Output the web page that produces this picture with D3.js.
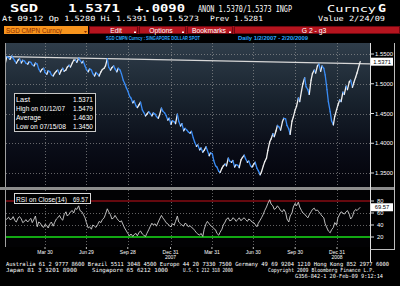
<!DOCTYPE html>
<html><head><meta charset="utf-8">
<script src="https://cdn.jsdelivr.net/npm/d3@7"></script>
<style>
html,body{margin:0;padding:0;background:#000;}
svg{display:block;}
</style></head>
<body>
<svg id="c" width="400" height="286"></svg>
<script>
// ---------- DATA ----------
const startDate = "2007-01-02";
const endDate = "2009-02-20";
// weekly closes (Tuesdays from 2007-01-02, last = 2009-02-20)
const priceValues = [
1.5349,1.5440,1.5466,1.5380,1.5400,1.5350,1.5380,1.5330,1.5360,1.5300,
1.5330,1.5200,1.5260,1.5160,1.5200,1.5130,1.5210,1.5160,1.5260,1.5230,
1.5310,1.5350,1.5400,1.5430,1.5350,1.5300,1.5200,1.5230,1.5130,1.5160,
1.5200,1.5260,1.5420,1.5230,1.5300,1.5200,1.5230,1.5060,1.4930,1.4790,
1.4680,1.4630,1.4650,1.4560,1.4460,1.4530,1.4460,1.4490,1.4420,1.4590,
1.4510,1.4390,1.4320,1.4360,1.4490,1.4290,1.4210,1.4220,1.4170,1.4090,
1.3950,1.3890,1.3850,1.3940,1.3790,1.3820,1.3620,1.3530,1.3580,1.3650,
1.3750,1.3680,1.3600,1.3630,1.3720,1.3800,1.3680,1.3620,1.3650,1.3580,
1.3470,1.3620,1.3750,1.4020,1.4160,1.4210,1.4270,1.4360,1.4410,1.4240,
1.4370,1.4560,1.4760,1.4880,1.5100,1.4900,1.5060,1.5230,1.5300,1.5210,
1.5260,1.4900,1.4530,1.4310,1.4560,1.4730,1.4860,1.4960,1.5030,1.4940,
1.5110,1.5371];
// mid-week closes (3 days after each weekly close)
const midPriceValues = [
1.5455,1.5410,1.5430,1.5345,1.5420,1.5395,1.5345,1.5370,1.5320,1.5350,
1.5250,1.5240,1.5190,1.5220,1.5150,1.5175,1.5230,1.5215,1.5210,1.5280,
1.5280,1.5395,1.5360,1.5395,1.5380,1.5240,1.5250,1.5170,1.5190,1.5130,
1.5240,1.5300,1.5280,1.5270,1.5250,1.5260,1.5170,1.5010,1.4880,1.4760,
1.4710,1.4600,1.4690,1.4520,1.4490,1.4500,1.4510,1.4450,1.4480,1.4540,
1.4470,1.4420,1.4380,1.4330,1.4370,1.4330,1.4250,1.4190,1.4200,1.4020,
1.3970,1.3920,1.3880,1.3880,1.3840,1.3710,1.3600,1.3510,1.3620,1.3620,
1.3700,1.3710,1.3640,1.3590,1.3760,1.3740,1.3700,1.3600,1.3680,1.3540,
1.3520,1.3690,1.3880,1.4070,1.4110,1.4300,1.4220,1.4420,1.4300,1.4150,
1.4440,1.4620,1.4700,1.5000,1.4950,1.4820,1.5170,1.5180,1.5330,1.5300,
1.5150,1.4700,1.4380,1.4450,1.4640,1.4700,1.4820,1.4900,1.5060,1.5020,
1.5180];
const rsiValues = [
48,53,50,47,52,50,46,45,51,50,
37,43,36,39,42,38,50,56,48,62,
58,64,68,72,62,52,35,33,38,41,
44,52,67,57,52,51,45,40,30,22,
21,26,28,25,21,32,43,42,45,56,
48,42,37,40,55,42,38,41,39,34,
27,23,21,42,42,37,32,23,33,45,
52,48,50,49,47,52,46,48,44,37,
48,58,70,82,72,68,68,62,61,45,
60,76,78,64,58,52,62,68,65,58,
52,35,27,36,40,58,60,62,58,54,
66,69.57];
const midRsiValues = [
50,49,54,45,54,44,49,48,44,55,
45,38,41,35,45,44,52,51,57,55,
62,60,66,64,58,44,37,40,36,46,
49,58,62,50,56,48,47,35,26,25,
24,22,30,23,26,37,40,38,50,52,
44,39,42,46,45,40,43,37,36,31,
25,26,33,46,39,34,26,28,40,50,
47,52,46,52,50,49,50,45,41,43,
52,64,76,75,66,72,64,66,50,55,
70,72,70,60,55,57,66,64,62,55,
42,30,32,44,52,62,58,64,50,62,
64];
const priceTicks = [1.55, 1.50, 1.45, 1.40, 1.35];
const priceTickLabels = ["1.5500","1.5000","1.4500","1.4000","1.3500"];
const rsiTicks = [80, 60, 40, 20];
const quarterTicks = ["2007-03-30","2007-06-29","2007-09-28","2007-12-31","2008-03-31","2008-06-30","2008-09-30","2008-12-31"];
const quarterLabels = ["Mar 30","Jun 29","Sep 28","Dec 31","Mar 31","Jun 30","Sep 30","Dec 31"];
const yearDates = ["2007-12-31","2008-12-31"];
const yearLabels = ["2007","2008"];
const trendDates = ["2007-01-02","2009-03-14"];
const trendValues = [1.5455, 1.5335];
const statLabels = ["Last","High on 01/12/07","Average","Low on 07/15/08"];
const statValues = ["1.5371","1.5479","1.4630","1.3450"];
const lastPrice = 1.5371;
const lastRsi = 69.57;

// ---------- SETUP ----------
const parse = d3.timeParse("%Y-%m-%d");
const t0 = parse(startDate);
const weekDates = priceValues.map((v,i)=> i===priceValues.length-1 ? parse(endDate) : d3.timeDay.offset(t0, 7*i));
const price = [], rsi = [];
priceValues.forEach((v,i)=>{
  price.push({d:weekDates[i], v});
  rsi.push({d:weekDates[i], v:rsiValues[i]});
  if (i < midPriceValues.length) {
    const md = d3.timeDay.offset(weekDates[i], 3);
    price.push({d:md, v:midPriceValues[i]});
    rsi.push({d:md, v:midRsiValues[i]});
  }
});

const svg = d3.select("#c");
const MONO = "'DejaVu Sans Mono', 'Liberation Mono', monospace";
const SANS = "'Liberation Sans', Arial, sans-serif";

const x = d3.scaleTime().domain([parse("2007-03-30"), parse("2008-12-31")]).range([45, 337]);
const yP = d3.scaleLinear().domain([1.35, 1.55]).range([173, 54]);
const yR = d3.scaleLinear().domain([20, 80]).range([237, 201]);

const PL = 6, PR = 370, PT = 43, PB = 187;   // main panel
const RT = 190, RB = 247;                      // RSI panel

function txt(s, xx, yy, o={}) {
  const t = svg.append("text").attr("x", xx).attr("y", yy).text(s)
    .attr("fill", o.fill || "#fff")
    .attr("font-family", o.font || MONO)
    .attr("font-size", o.size || 8)
    .attr("font-weight", o.weight || "normal")
    .attr("text-anchor", o.anchor || "start");
  if (o.tl) t.attr("textLength", o.tl).attr("lengthAdjust", "spacingAndGlyphs");
  return t;
}

// ---------- HEADER ----------
svg.append("rect").attr("width",400).attr("height",286).attr("fill","#000");
txt("SGD", 10, 12.2, {size:10.5, weight:"bold", tl:28});
txt("1.5371", 68, 12.2, {size:10.5, weight:"bold", tl:52});
txt("+.0090", 135, 12.2, {size:10.5, weight:"bold", tl:50});
txt("ANON 1.5370/1.5373 INGP", 198, 12.2, {size:9, tl:94});
txt("Curncy", 327, 12.2, {size:9, tl:49});
txt("G", 378, 12.2, {size:10.5, weight:"bold", tl:8});
txt("At 09:12 Op 1.5280 Hi 1.5391 Lo 1.5273", 2, 21.3, {size:7.2, tl:197});
txt("Prev 1.5281", 210, 21.3, {size:7.2, tl:53});
txt("Value 2/24/09", 318, 21.3, {size:7.2, tl:67});

// toolbar
svg.append("rect").attr("x",4).attr("y",26).attr("width",84).attr("height",8).attr("fill","#f7941d");
txt("SGD CMPN Curncy", 6, 32.8, {size:6.5, fill:"#8a2a00", font:SANS, tl:56});
svg.append("path").attr("d","M84,31 L87,31 L85.5,33 Z").attr("fill","#8a2a00");
svg.append("rect").attr("x",89).attr("y",26).attr("width",311).attr("height",8).attr("fill","#a8101a");
const buttons = [[89,138,"Edit",116],[139,186,"Options",161],[187,233,"Bookmarks",209],[234,400,"G 2 - g3",314]];
buttons.forEach(b=>{
  svg.append("rect").attr("x",b[0]+0.5).attr("y",26.5).attr("width",b[1]-b[0]-1).attr("height",7)
    .attr("fill","#b5141e").attr("stroke","#6e0710").attr("stroke-width",1);
  txt(b[2], b[3], 32.6, {size:6.8, font:SANS, anchor:"middle", fill:"#fff"});
  if (b[1] < 390) svg.append("rect").attr("x",b[1]-4).attr("y",31.5).attr("width",2).attr("height",1.5).attr("fill","#fff");
});
txt("SGD CMPN Curncy : SINGAPORE DOLLAR SPOT", 106, 40, {size:4.8, weight:"bold", fill:"#2aa8ff", font:SANS, tl:94});
txt("Daily 1/2/2007 - 2/20/2009", 238, 40, {size:4.8, weight:"bold", fill:"#2aa8ff", font:SANS, tl:70});

// ---------- MAIN PANEL ----------
const defs = svg.append("defs");
const g = defs.append("linearGradient").attr("id","bg").attr("x1",0).attr("y1",0).attr("x2",0).attr("y2",1);
[[0,"#2f3d4a"],[0.4,"#18222d"],[0.72,"#0a0d18"],[1,"#03030a"]].forEach(s=>g.append("stop").attr("offset",s[0]).attr("stop-color",s[1]));
defs.append("clipPath").attr("id","clipP").append("rect").attr("x",PL).attr("y",PT).attr("width",PR-PL).attr("height",PB-PT);
defs.append("clipPath").attr("id","clipR").append("rect").attr("x",PL).attr("y",RT).attr("width",PR-PL).attr("height",RB-RT);

svg.append("rect").attr("x",PL).attr("y",PT).attr("width",PR-PL).attr("height",PB-PT).attr("fill","url(#bg)");
svg.append("rect").attr("x",PL).attr("y",RT).attr("width",PR-PL).attr("height",RB-RT).attr("fill","#020204");

const grid = svg.append("g").attr("stroke","#9a9a9a").attr("stroke-width",0.8).attr("stroke-dasharray","1,2").attr("opacity",0.8);
priceTicks.forEach(t=>grid.append("line").attr("x1",PL).attr("x2",PR).attr("y1",Math.round(yP(t))+0.5).attr("y2",Math.round(yP(t))+0.5));
[60,40].forEach(t=>grid.append("line").attr("x1",PL).attr("x2",PR).attr("y1",Math.round(yR(t))+0.5).attr("y2",Math.round(yR(t))+0.5));
quarterTicks.forEach(q=>{
  const xx = Math.round(x(parse(q)))+0.5;
  grid.append("line").attr("x1",xx).attr("x2",xx).attr("y1",PT).attr("y2",PB);
  grid.append("line").attr("x1",xx).attr("x2",xx).attr("y1",RT).attr("y2",RB);
});

// trend line
const tl = trendDates.map((d,i)=>({d:parse(d), v:trendValues[i]}));
svg.append("path").attr("clip-path","url(#clipP)").datum(tl)
  .attr("d", d3.line().x(p=>x(p.d)).y(p=>yP(p.v)))
  .attr("stroke","#d8d8d8").attr("stroke-width",1.2).attr("fill","none");

// price line: up segments white, down segments blue
const pg = svg.append("g").attr("clip-path","url(#clipP)");
for (let i=1;i<price.length;i++){
  const a=price[i-1], b=price[i];
  pg.append("line").attr("x1",x(a.d)).attr("y1",yP(a.v)).attr("x2",x(b.d)).attr("y2",yP(b.v))
    .attr("stroke", b.v < a.v ? "#3a8cf5" : "#f0f0f0").attr("stroke-width",1.3).attr("stroke-linecap","round");
}

// stats legend
svg.append("rect").attr("x",14.5).attr("y",93.5).attr("width",81).attr("height",38)
  .attr("fill","#000").attr("fill-opacity",0.85).attr("stroke","#c8c8c8").attr("stroke-width",1);
const statTL = [14, 49, 25, 50];
statLabels.forEach((s,i)=>{
  txt(s, 16, 102+i*9, {size:7.5, font:SANS, tl:statTL[i]});
  txt(statValues[i], 93, 102+i*9, {size:7.5, font:SANS, anchor:"end", tl:20});
});

// separator bar
svg.append("rect").attr("x",0).attr("y",187).attr("width",395).attr("height",3).attr("fill","#8c8c8c");

// left borders
svg.append("line").attr("x1",5.5).attr("x2",5.5).attr("y1",PT).attr("y2",PB).attr("stroke","#a0a0a0");
svg.append("line").attr("x1",5.5).attr("x2",5.5).attr("y1",RT).attr("y2",RB).attr("stroke","#a0a0a0");

// ---------- RSI PANEL ----------
svg.append("line").attr("x1",PL).attr("x2",PR).attr("y1",yR(80)).attr("y2",yR(80)).attr("stroke","#c8101a").attr("stroke-width",1.2);
svg.append("line").attr("x1",PL).attr("x2",PR).attr("y1",yR(20)).attr("y2",yR(20)).attr("stroke","#19e019").attr("stroke-width",1.6);
svg.append("path").attr("clip-path","url(#clipR)").datum(rsi)
  .attr("d", d3.line().x(p=>x(p.d)).y(p=>yR(p.v)))
  .attr("stroke","#d0d0d0").attr("stroke-width",0.9).attr("fill","none");

svg.append("rect").attr("x",14.5).attr("y",193.5).attr("width",76).attr("height",10)
  .attr("fill","#000").attr("stroke","#d8d8d8").attr("stroke-width",1);
txt("RSI on Close(14)", 16, 201.6, {size:7, font:SANS, tl:51});
txt("69.57", 88, 201.6, {size:7, font:SANS, anchor:"end", tl:15});

// ---------- RIGHT AXIS ----------
const ax = svg.append("g");
ax.append("line").attr("x1",370.5).attr("x2",370.5).attr("y1",PT).attr("y2",262).attr("stroke","#e0e0e0");
ax.append("line").attr("x1",394.5).attr("x2",394.5).attr("y1",PT).attr("y2",250).attr("stroke","#bdbdbd");
ax.append("line").attr("x1",370).attr("x2",395).attr("y1",249.5).attr("y2",249.5).attr("stroke","#bdbdbd");
priceTicks.forEach((t,i)=>{
  const yy = yP(t);
  ax.append("line").attr("x1",370).attr("x2",374).attr("y1",yy).attr("y2",yy).attr("stroke","#ddd");
  txt(priceTickLabels[i], 375, yy+2, {size:5.8, font:SANS, tl:18});
});
rsiTicks.forEach(t=>{
  const yy = yR(t);
  ax.append("line").attr("x1",370).attr("x2",374).attr("y1",yy).attr("y2",yy).attr("stroke","#ddd");
  txt(String(t), 377, yy+2, {size:5.8, font:SANS});
});
const lpY = yP(lastPrice);
ax.append("rect").attr("x",371).attr("y",lpY-4).attr("width",22).attr("height",8).attr("fill","#fff");
txt("1.5371", 382, lpY+2, {size:5.8, font:SANS, fill:"#000", anchor:"middle"});
const lrY = yR(lastRsi);
ax.append("rect").attr("x",371).attr("y",lrY-4).attr("width",22).attr("height",8).attr("fill","#fff");
txt("69.57", 382, lrY+2, {size:5.8, font:SANS, fill:"#000", anchor:"middle"});

// ---------- X AXIS ----------
quarterTicks.forEach((q,i)=>{
  const xx = x(parse(q));
  svg.append("line").attr("x1",xx).attr("x2",xx).attr("y1",RB).attr("y2",RB+2).attr("stroke","#bbb");
  txt(quarterLabels[i], xx, 253.5, {size:5, font:SANS, anchor:"middle"});
});
yearDates.forEach((d,i)=> txt(yearLabels[i], x(parse(d)), 259, {size:5, font:SANS, anchor:"middle"}));

// ---------- FOOTER ----------
txt("Australia 61 2 9777 8600 Brazil 5511 3048 4500 Europe 44 20 7330 7500 Germany 49 69 9204 1210 Hong Kong 852 2977 6000", 6, 266, {size:5.6, tl:383});
txt("Japan 81 3 3201 8900", 6, 272, {size:5.6, tl:71});
txt("Singapore 65 6212 1000", 92, 272, {size:5.6, tl:76});
txt("U.S. 1 212 318 2000", 183, 272, {size:5.6, tl:50});
txt("Copyright 2009 Bloomberg Finance L.P.", 268, 272, {size:5.6, tl:107});
txt("G356-842-1 20-Feb-09  9:12:14", 295, 278, {size:5.6, tl:88});
</script>
</body></html>
